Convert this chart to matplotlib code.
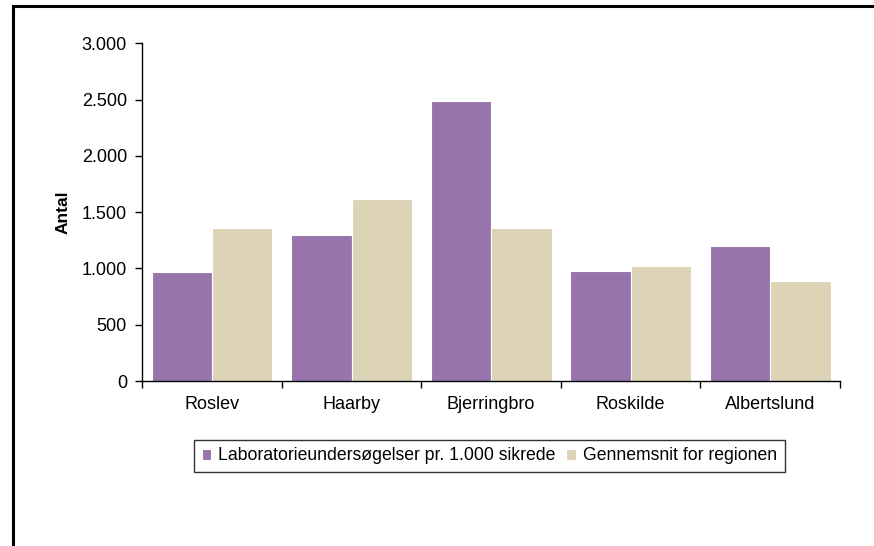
import numpy as np
import matplotlib.pyplot as plt
from matplotlib.lines import Line2D

plt.rcParams['font.family'] = ['Liberation Sans', 'DejaVu Sans']

categories = ['Roslev', 'Haarby', 'Bjerringbro', 'Roskilde', 'Albertslund']
lab_per_1000 = [970, 1295, 2485, 975, 1195]
region_avg = [1355, 1615, 1355, 1020, 885]
series_names = ['Laboratorieundersøgelser pr. 1.000 sikrede', 'Gennemsnit for regionen']
yticks = [0, 500, 1000, 1500, 2000, 2500, 3000]
ytick_labels = ['0', '500', '1.000', '1.500', '2.000', '2.500', '3.000']

purple = '#9874AC'
beige = '#DDD3B6'

W, H = 874, 546
fig = plt.figure(figsize=(W / 100, H / 100), dpi=100)
ax = fig.add_axes([142.3 / W, 1 - 381 / H, (840 - 142.3) / W, (381 - 43.3) / H])

x = np.arange(len(categories))
bw = 0.433
ax.bar(x - bw / 2, lab_per_1000, width=bw, color=purple, edgecolor='white', linewidth=0.8,
       label=series_names[0])
ax.bar(x + bw / 2, region_avg, width=bw, color=beige, edgecolor='white', linewidth=0.8,
       label=series_names[1])

ax.set_xlim(-0.5, len(categories) - 0.5)
ax.set_ylim(0, 3000)
ax.set_yticks(yticks)
ax.set_yticklabels(ytick_labels, fontsize=13)

# group separators as ticks, names centred under each group
ax.set_xticks(np.arange(len(categories) + 1) - 0.5)
ax.set_xticklabels([])
ax.set_xticks(x, minor=True)
ax.set_xticklabels(categories, minor=True, fontsize=13)
ax.tick_params(axis='x', which='minor', length=0, pad=11)
ax.tick_params(axis='x', which='major', length=5, width=1)
ax.tick_params(axis='y', length=5, width=1, pad=6)

for side in ['top', 'right']:
    ax.spines[side].set_visible(False)
for side in ['left', 'bottom']:
    ax.spines[side].set_linewidth(1)

ax.set_ylabel('Antal', fontsize=12.5, fontweight='bold', labelpad=8)

leg = fig.legend(loc='center', bbox_to_anchor=(489.5 / W, 1 - 456 / H), ncol=2,
                 fontsize=12.7, frameon=True, fancybox=False, handlelength=0.55,
                 handleheight=0.55, handletextpad=0.4, columnspacing=0.6,
                 borderpad=0.45, edgecolor='#333333', framealpha=1)
leg.get_frame().set_linewidth(1)

# outer frame, open at right and bottom
fig.add_artist(Line2D([12.5 / W, 12.5 / W], [0, 1 - 5.5 / H], transform=fig.transFigure,
                      color='black', linewidth=2.2))
fig.add_artist(Line2D([12.5 / W, 1], [1 - 5.5 / H, 1 - 5.5 / H], transform=fig.transFigure,
                      color='black', linewidth=2.2))

fig.savefig('out.png', dpi=100)
